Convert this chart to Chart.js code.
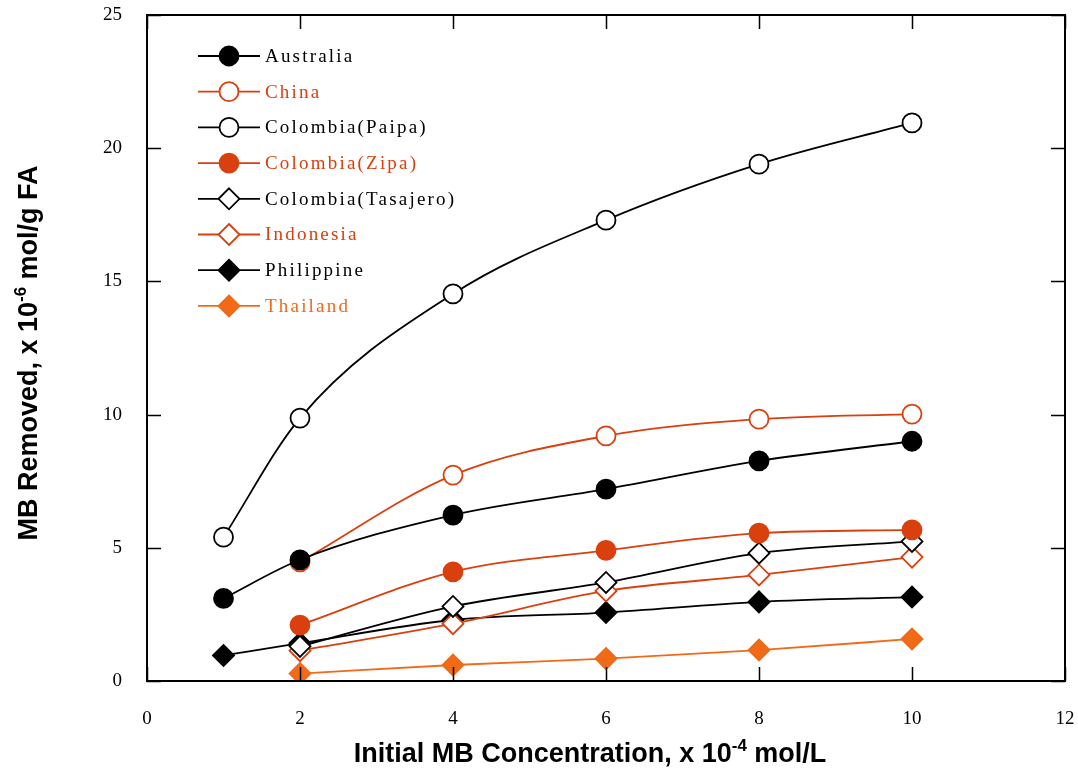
<!DOCTYPE html>
<html>
<head>
<meta charset="utf-8">
<script src="https://cdn.jsdelivr.net/npm/chart.js@4/dist/chart.umd.min.js"></script>
<style>
  html, body { margin: 0; padding: 0; background: #fff; }
  #wrap { width: 1078px; height: 769px; }
</style>
</head>
<body>
<div id="wrap"><canvas id="c"></canvas></div>
<script>
const seriesNames = ["Australia", "China", "Colombia(Paipa)", "Colombia(Zipa)",
  "Colombia(Tasajero)", "Indonesia", "Philippine", "Thailand"];

const xFull = [1, 2, 4, 6, 8, 10];
const xFrom2 = [2, 4, 6, 8, 10];

const australia = [3.1, 4.55, 6.23, 7.2, 8.26, 9.0];
const china = [4.47, 7.73, 9.2, 9.83, 10.02];
const paipa = [5.4, 9.87, 14.53, 17.3, 19.4, 20.95];
const zipa = [2.1, 4.1, 4.9, 5.55, 5.67];
const tasajero = [1.3, 2.8, 3.7, 4.8, 5.24];
const indonesia = [1.14, 2.15, 3.38, 3.98, 4.65];
const philippine = [0.96, 1.42, 2.29, 2.57, 2.97, 3.15];
const thailand = [0.28, 0.6, 0.84, 1.16, 1.58];

const xTicks = [0, 2, 4, 6, 8, 10, 12];
const yTicks = [0, 5, 10, 15, 20, 25];

const BLACK = "#000000";
const RED = "#d9400e";
const ORANGE = "#f06a18";

function pts(xs, ys) { return xs.map((x, i) => ({ x: x, y: ys[i] })); }

function ds(label, xs, ys, color, style, filled) {
  return {
    label: label,
    data: pts(xs, ys),
    borderColor: color,
    backgroundColor: color,
    borderWidth: 1.8,
    pointStyle: style,
    pointRadius: style === 'circle' ? 9.5 : 10.5,
    pointBackgroundColor: filled ? color : "#ffffff",
    pointBorderColor: color,
    pointBorderWidth: 1.8,
    cubicInterpolationMode: 'monotone',
    fill: false,
    _filled: filled,
  };
}

const datasets = [
  ds(seriesNames[0], xFull, australia, BLACK, 'circle', true),
  ds(seriesNames[1], xFrom2, china, RED, 'circle', false),
  ds(seriesNames[2], xFull, paipa, BLACK, 'circle', false),
  ds(seriesNames[3], xFrom2, zipa, RED, 'circle', true),
  ds(seriesNames[4], xFrom2, tasajero, BLACK, 'rectRot', false),
  ds(seriesNames[5], xFrom2, indonesia, RED, 'rectRot', false),
  ds(seriesNames[6], xFull, philippine, BLACK, 'rectRot', true),
  ds(seriesNames[7], xFrom2, thailand, ORANGE, 'rectRot', true),
];

// inner tick marks on all four sides
const innerTicks = {
  id: 'innerTicks',
  afterDatasetsDraw(chart) {
    const { ctx, chartArea: a, scales } = chart;
    ctx.save();
    ctx.strokeStyle = "#000";
    ctx.lineWidth = 1.5;
    ctx.beginPath();
    xTicks.forEach(v => {
      const px = Math.round(scales.x.getPixelForValue(v)) + 0.5;
      ctx.moveTo(px, a.bottom); ctx.lineTo(px, a.bottom - 14);
      ctx.moveTo(px, a.top); ctx.lineTo(px, a.top + 14);
    });
    yTicks.forEach(v => {
      const py = Math.round(scales.y.getPixelForValue(v)) + 0.5;
      ctx.moveTo(a.left, py); ctx.lineTo(a.left + 14, py);
      ctx.moveTo(a.right, py); ctx.lineTo(a.right - 14, py);
    });
    ctx.stroke();
    ctx.lineWidth = 2;
    ctx.strokeRect(a.left, a.top, a.right - a.left, a.bottom - a.top);
    ctx.restore();
  }
};

function drawMarker(ctx, d, x, y) {
  ctx.save();
  ctx.lineWidth = 1.8;
  ctx.strokeStyle = d.borderColor;
  ctx.fillStyle = d._filled ? d.borderColor : "#fff";
  ctx.beginPath();
  if (d.pointStyle === 'circle') {
    ctx.arc(x, y, 9.5, 0, Math.PI * 2);
  } else {
    const r = 10.5;
    ctx.moveTo(x, y - r); ctx.lineTo(x + r, y); ctx.lineTo(x, y + r); ctx.lineTo(x - r, y); ctx.closePath();
  }
  ctx.fill();
  ctx.stroke();
  ctx.restore();
}

const legendAndTitles = {
  id: 'legendAndTitles',
  afterDraw(chart) {
    const ctx = chart.ctx;
    ctx.save();
    // legend
    chart.data.datasets.forEach((d, i) => {
      const y = 56 + i * 35.7;
      ctx.strokeStyle = d.borderColor;
      ctx.lineWidth = 1.8;
      ctx.beginPath(); ctx.moveTo(198, y); ctx.lineTo(260, y); ctx.stroke();
      drawMarker(ctx, d, 229, y);
      ctx.fillStyle = d.borderColor;
      ctx.font = '19px "Liberation Serif", serif';
      ctx.textBaseline = 'middle';
      ctx.textAlign = 'left';
      if ('letterSpacing' in ctx) ctx.letterSpacing = '2.2px';
      ctx.fillText(d.label, 265, y + 1);
      if ('letterSpacing' in ctx) ctx.letterSpacing = '0px';
    });

    // axis titles with superscripts
    function superTitle(parts, cx, cy) {
      const big = 'bold 27px "Liberation Sans", Arial, sans-serif';
      const small = 'bold 17px "Liberation Sans", Arial, sans-serif';
      let w = 0;
      parts.forEach(p => { ctx.font = p.sup ? small : big; w += ctx.measureText(p.t).width; });
      let x = cx - w / 2;
      ctx.textBaseline = 'alphabetic';
      ctx.textAlign = 'left';
      ctx.fillStyle = '#000';
      parts.forEach(p => {
        ctx.font = p.sup ? small : big;
        ctx.fillText(p.t, x, p.sup ? cy - 11 : cy);
        x += ctx.measureText(p.t).width;
      });
    }
    superTitle([{ t: 'Initial MB Concentration, x 10' }, { t: '-4', sup: true }, { t: ' mol/L' }], 590, 762);
    ctx.save();
    ctx.translate(37, 353);
    ctx.rotate(-Math.PI / 2);
    superTitle([{ t: 'MB Removed, x 10' }, { t: '-6', sup: true }, { t: ' mol/g FA' }], 0, 0);
    ctx.restore();
    ctx.restore();
  }
};

const tickFont = { family: '"Liberation Serif", serif', size: 19 };

new Chart(document.getElementById('c'), {
  type: 'line',
  data: { datasets: datasets },
  options: {
    responsive: true,
    maintainAspectRatio: false,
    animation: false,
    layout: { autoPadding: false, padding: { top: 15, right: 13, left: 0, bottom: 0 } },
    plugins: { legend: { display: false }, tooltip: { enabled: false } },
    scales: {
      x: {
        type: 'linear',
        min: 0, max: 12,
        afterBuildTicks(s) { s.ticks = xTicks.map(v => ({ value: v })); },
        afterFit(s) { s.height = 88; s.paddingLeft = 0; s.paddingRight = 0; },
        grid: { display: false },
        border: { display: false },
        ticks: { color: '#000', font: tickFont, padding: 19, maxRotation: 0 },
      },
      y: {
        min: 0, max: 25,
        afterBuildTicks(s) { s.ticks = yTicks.map(v => ({ value: v })); },
        afterFit(s) { s.width = 147; s.paddingTop = 0; s.paddingBottom = 0; },
        grid: { display: false },
        border: { display: false },
        ticks: { color: '#000', font: tickFont, padding: 17 },
      }
    }
  },
  plugins: [innerTicks, legendAndTitles]
});
</script>
</body>
</html>
